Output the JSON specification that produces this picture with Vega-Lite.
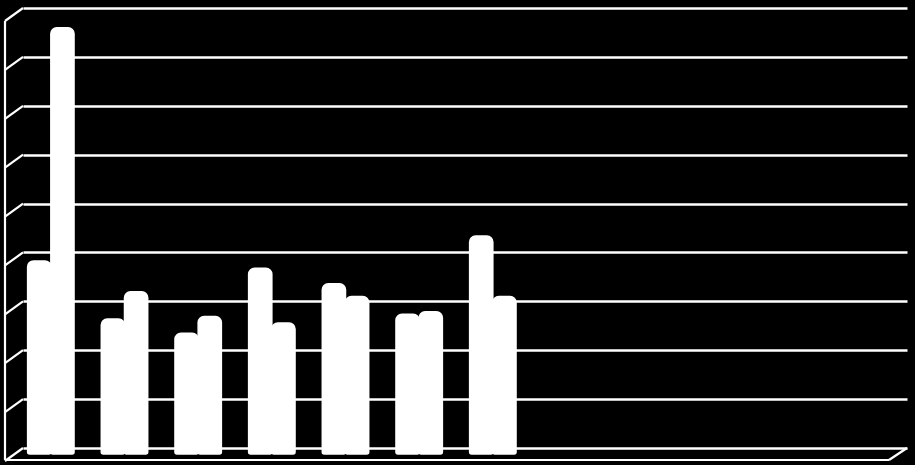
{
  "$schema": "https://vega.github.io/schema/vega-lite/v6.json",
  "width": 884,
  "height": 440,
  "autosize": {"type": "none"},
  "padding": {"left": 23, "top": 8, "right": 8, "bottom": 17},
  "background": "black",
  "datasets": {
    "bars": [
      {"cat": "1", "series": "A", "value": 3.95},
      {"cat": "1", "series": "B", "value": 8.72},
      {"cat": "2", "series": "A", "value": 2.76},
      {"cat": "2", "series": "B", "value": 3.32},
      {"cat": "3", "series": "A", "value": 2.47},
      {"cat": "3", "series": "B", "value": 2.81},
      {"cat": "4", "series": "A", "value": 3.8},
      {"cat": "4", "series": "B", "value": 2.68},
      {"cat": "5", "series": "A", "value": 3.48},
      {"cat": "5", "series": "B", "value": 3.22},
      {"cat": "6", "series": "A", "value": 2.86},
      {"cat": "6", "series": "B", "value": 2.91},
      {"cat": "7", "series": "A", "value": 4.46},
      {"cat": "7", "series": "B", "value": 3.22}
    ],
    "levels": [
      {"level": 0}, {"level": 1}, {"level": 2}, {"level": 3}, {"level": 4},
      {"level": 5}, {"level": 6}, {"level": 7}, {"level": 8}, {"level": 9}
    ],
    "one": [{"id": 1}]
  },
  "resolve": {"scale": {"x": "independent", "y": "independent"}},
  "layer": [
    {
      "data": {"name": "levels"},
      "mark": {"type": "rule", "color": "white", "strokeWidth": 2.2, "x2Offset": -18, "y2Offset": 13},
      "encoding": {
        "x": {"datum": 0, "type": "quantitative", "scale": {"domain": [0, 1]}, "axis": null},
        "x2": {"datum": 0},
        "y": {
          "field": "level",
          "type": "quantitative",
          "scale": {"domain": [0, 9], "nice": false},
          "axis": {
            "values": [0, 1, 2, 3, 4, 5, 6, 7, 8, 9],
            "grid": true,
            "gridColor": "white",
            "gridWidth": 2.5,
            "gridOpacity": 1,
            "domain": false,
            "ticks": false,
            "labels": false,
            "title": null
          }
        },
        "y2": {"field": "level"}
      }
    },
    {
      "data": {"name": "one"},
      "mark": {"type": "rule", "color": "white", "strokeWidth": 2.2, "xOffset": -18, "yOffset": 13, "y2Offset": 12},
      "encoding": {
        "x": {"datum": 0, "type": "quantitative", "scale": {"domain": [0, 1]}, "axis": null},
        "y": {"datum": 9, "type": "quantitative", "scale": {"domain": [0, 9], "nice": false}, "axis": null},
        "y2": {"datum": 0}
      }
    },
    {
      "data": {"name": "one"},
      "mark": {"type": "rule", "color": "white", "strokeWidth": 2.2, "xOffset": -18, "x2Offset": -18, "yOffset": 12},
      "encoding": {
        "x": {"datum": 0, "type": "quantitative", "scale": {"domain": [0, 1]}, "axis": null},
        "x2": {"datum": 1},
        "y": {"datum": 0, "type": "quantitative", "scale": {"domain": [0, 9], "nice": false}, "axis": null}
      }
    },
    {
      "data": {"name": "one"},
      "mark": {"type": "rule", "color": "white", "strokeWidth": 2.2, "x2Offset": -18, "y2Offset": 12},
      "encoding": {
        "x": {"datum": 1, "type": "quantitative", "scale": {"domain": [0, 1]}, "axis": null},
        "x2": {"datum": 1},
        "y": {"datum": 0, "type": "quantitative", "scale": {"domain": [0, 9], "nice": false}, "axis": null},
        "y2": {"datum": 0}
      }
    },
    {
      "data": {"name": "bars"},
      "mark": {
        "type": "bar",
        "color": "white",
        "stroke": "white",
        "strokeWidth": 1.5,
        "cornerRadiusTopLeft": 6,
        "cornerRadiusTopRight": 6,
        "cornerRadiusBottomLeft": 2,
        "cornerRadiusBottomRight": 2
      },
      "encoding": {
        "x": {
          "field": "cat",
          "type": "nominal",
          "sort": null,
          "scale": {
            "domain": ["1", "2", "3", "4", "5", "6", "7", "8", "9", "10", "11", "12"],
            "range": [-9, 875],
            "paddingInner": 0.37,
            "paddingOuter": 0.185
          },
          "axis": null
        },
        "xOffset": {"field": "series", "type": "nominal", "scale": {"paddingInner": 0, "paddingOuter": 0}},
        "y": {
          "field": "value",
          "type": "quantitative",
          "scale": {"domain": [0, 9], "nice": false, "range": [446, 6]},
          "axis": null
        }
      }
    }
  ],
  "config": {"view": {"stroke": null}}
}
